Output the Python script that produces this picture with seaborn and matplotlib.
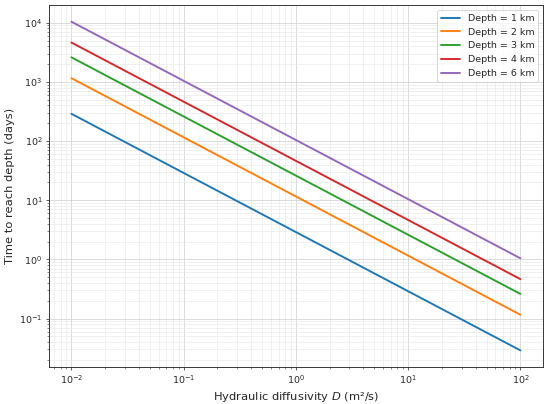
import matplotlib
matplotlib.use("Agg")
import matplotlib.pyplot as plt
import seaborn as sns
import pandas as pd

diffusivity = [0.01, 0.1, 1.0, 10.0, 100.0]
depth_labels = ["Depth = 1 km", "Depth = 2 km", "Depth = 3 km", "Depth = 4 km", "Depth = 6 km"]
time_1km = [289, 28.9, 2.89, 0.289, 0.0289]
time_2km = [1157, 115.7, 11.57, 1.157, 0.1157]
time_3km = [2604, 260.4, 26.04, 2.604, 0.2604]
time_4km = [4630, 463.0, 46.30, 4.630, 0.4630]
time_6km = [10417, 1041.7, 104.17, 10.417, 1.0417]
series = [time_1km, time_2km, time_3km, time_4km, time_6km]
colors = ["#1f77b4", "#ff7f0e", "#2ca02c", "#d62728", "#9467bd"]

rows = []
for lab, vals in zip(depth_labels, series):
    for d, t in zip(diffusivity, vals):
        rows.append({"D": d, "t": t, "label": lab})
df = pd.DataFrame(rows)

sns.set_style("ticks")
plt.rcParams['font.family'] = ['DejaVu Sans']
DPI = 68.75
fig = plt.figure(figsize=(550 / DPI, 404 / DPI), dpi=DPI)
ax = fig.add_axes([0.089, 0.092, 0.898, 0.895])
sns.lineplot(data=df, x="D", y="t", hue="label", palette=colors, ax=ax,
             linewidth=2, estimator=None, sort=True)
ax.set_xscale("log")
ax.set_yscale("log")
ax.grid(True, which="major", color="#d2d2d2", linewidth=0.8)
ax.grid(True, which="minor", color="#e6e6e6", linewidth=0.6)
ax.set_axisbelow(True)
for s in ax.spines.values():
    s.set_color("#333333")
    s.set_linewidth(1.0)
ax.set_xlabel("Hydraulic diffusivity $D$ (m²/s)", fontsize=12)
ax.set_ylabel("Time to reach depth (days)", fontsize=12)
ax.tick_params(which="major", labelsize=10, length=3.5, width=0.8, color="#333333")
ax.tick_params(which="minor", length=2, width=0.6, color="#333333")
ax.legend(title=None, loc="upper right", fontsize=10)
fig.savefig("out.png", dpi=DPI)
